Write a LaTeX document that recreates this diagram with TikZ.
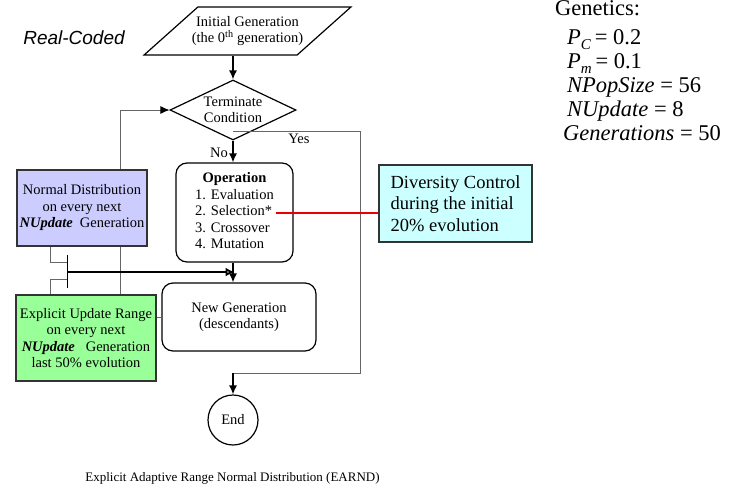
\documentclass[tikz,border=0pt]{standalone}
\usepackage{fontspec}
\setmainfont{Liberation Serif}
\newfontfamily\arialfont{Liberation Sans}
\usetikzlibrary{shapes.geometric,arrows.meta,backgrounds}
\definecolor{ndblue}{RGB}{204,204,255}
\definecolor{eugreen}{RGB}{153,255,153}
\definecolor{dvcyan}{RGB}{204,255,255}
\definecolor{selred}{RGB}{235,0,0}
\newcommand{\boxfont}{\fontsize{14.5}{16.5}\selectfont}

\begin{document}
\begin{tikzpicture}[x=1pt,y=-1pt,
    box/.style={draw,line width=1.2pt,rounded corners=11pt,inner sep=0pt,align=center,font=\boxfont},
    side/.style={draw=black!80,line width=1.2pt,inner sep=0pt,align=center,font=\boxfont},
    arr/.style={line width=1.3pt,-{Latex[length=9pt,width=8pt]}},
    conn/.style={black!60,line width=0.8pt}]
  \useasboundingbox (0,0) rectangle (733,490);

  \node[font=\arialfont\itshape\fontsize{19}{22}\selectfont] (kind) at (74,38) {Real-Coded};
  \node[draw,line width=1.2pt,trapezium,trapezium left angle=41,trapezium right angle=139,
        trapezium stretches=true,minimum width=207,minimum height=48,inner xsep=0pt,inner ysep=8pt,
        align=center,font=\boxfont] (init) at (247.5,31)
        {\makebox[97pt]{Initial Generation}\\\makebox[97pt]{(the 0\textsuperscript{th} generation)}};
  \node[draw,line width=1.2pt,diamond,aspect=2.1,inner sep=0pt,minimum width=126,minimum height=60,
        align=center,font=\boxfont] (term) at (233,110) {Terminate\\Condition};
  \node[box,minimum width=117,minimum height=99] (opbox) at (234.5,212.5)
        {\begin{tabular}{@{}l@{}}\multicolumn{1}{@{}c@{}}{\textbf{Operation}}\\
         1. Evaluation\\2. Selection*\\3. Crossover\\4. Mutation\end{tabular}};
  \node[box,minimum width=154,minimum height=68] (newgen) at (239,317) {New Generation\\(descendants)};
  \node[draw,line width=1.2pt,circle,minimum size=50,inner sep=0pt,font=\boxfont] (fin) at (233,420) {End};

  \node[side,fill=ndblue,minimum width=130,minimum height=76] (blue) at (82,208)
        {Normal Distribution\\on every next\\\textbf{\textit{NUpdate}}~~Generation};
  \node[side,fill=eugreen,minimum width=140,minimum height=86] (green) at (86,338)
        {Explicit Update Range\\on every next\\\textbf{\textit{NUpdate}}~~~Generation\\last 50\% evolution};
  \node[side,fill=dvcyan,minimum width=153,minimum height=77,align=left,
        font=\fontsize{18.5}{21.7}\selectfont] (div) at (455.5,203.5)
        {Diversity Control\\during the initial\\20\% evolution};

  \node[anchor=north west,inner sep=0pt,align=left,font=\fontsize{22.5}{24}\selectfont] (gen) at (555,0.5)
        {Genetics:\\[5pt]
         \hspace*{12pt}\textit{P}\raisebox{-5pt}{\fontsize{15}{15}\selectfont\textit{C}}\,= 0.2\\
         \hspace*{12pt}\textit{P}\raisebox{-5pt}{\fontsize{15}{15}\selectfont\textit{m}}\,= 0.1\\
         \hspace*{12pt}\textit{NPopSize} = 56\\
         \hspace*{12pt}\textit{NUpdate} = 8\\
         \hspace*{8pt}\textit{Generations} = 50};

  \node[font=\boxfont] (no) at (219,153) {No};
  \node[font=\boxfont] (yes) at (299,139) {Yes};
  \node[font=\fontsize{13}{15}\selectfont] (title) at (232.5,478)
        {Explicit Adaptive Range Normal Distribution (EARND)};

  % main flow
  \draw[arr] (term.north |- init.south) -- (term.north);
  \draw[arr] (term.south) -- (term.south |- opbox.north);
  \draw[arr] (term.south |- opbox.south) -- (term.south |- newgen.north);

  % yes branch
  \coordinate (yesL) at ([yshift=9]term.south);
  \coordinate (yesR) at (360,373);
  \draw[conn] (yesL) -| (yesR) -- (yesR -| fin.north);
  \draw[arr] (yesR -| fin.north) -- (fin.north);

  % range update
  \coordinate (barT) at (67,255);
  \coordinate (barB) at (67,288);
  \coordinate (barN) at (67,262);
  \coordinate (barS) at (67,279);
  \coordinate (barM) at (67,272);
  \draw[line width=1pt] (barT) -- (barB);
  \draw[conn] ([xshift=-32]blue.south) |- (barN);
  \draw[conn] ([xshift=-36]green.north) |- (barS);
  \draw[line width=2.8pt,-{Latex[open,length=9pt,width=9pt]}] (barM) -- (barM -| opbox.south);
  \draw[conn] (green.east |- newgen.west) -- (newgen.west);

  \begin{pgfonlayer}{background}
    \draw[conn,-{Latex[length=9pt,width=8pt,color=black]}] ([xshift=34]green.north) |- (term.west);
  \end{pgfonlayer}

  % diversity
  \coordinate (sel) at (276,213);
  \draw[draw=selred,line width=1.2pt] (sel) -- (sel -| div.west);
\end{tikzpicture}
\end{document}
